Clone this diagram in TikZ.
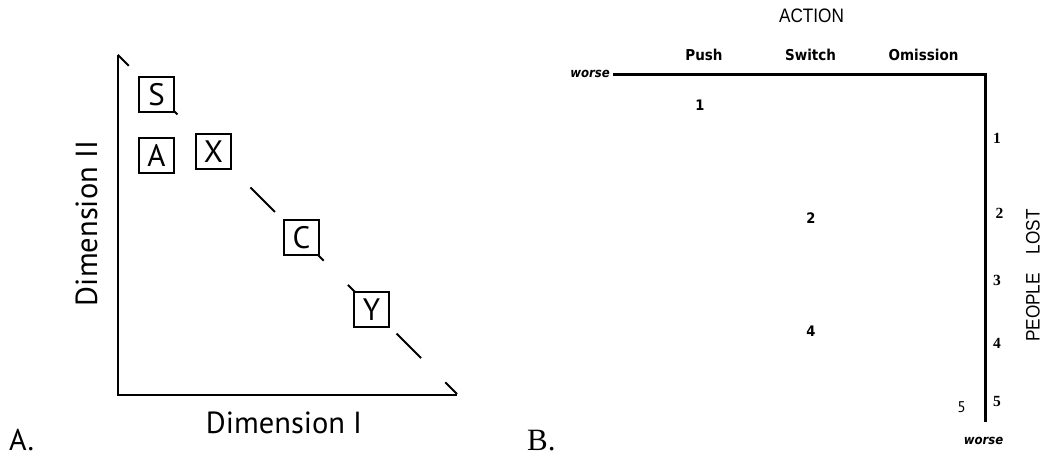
\documentclass[tikz,border=0pt]{standalone}
\usepackage{fontspec}
\setmainfont{Liberation Serif}
\newfontfamily\myrfont{PT Sans}
\newfontfamily\dvcfont{DejaVu Sans Condensed}
\newfontfamily\arlfont[FakeStretch=0.88]{Liberation Sans}
\newfontfamily\tmsfont{Liberation Serif}
\begin{document}
\begin{tikzpicture}[x=1pt,y=-1pt,
  letterbox/.style={draw=black,fill=white,line width=1.3pt,minimum size=35pt,inner sep=0pt,
    font=\myrfont\fontsize{31}{31}\selectfont},
  axisA/.style={line width=2.2pt},
  axisB/.style={line width=3pt,line join=miter},
  dimlabel/.style={font=\myrfont\fontsize{30.5}{30.5}\selectfont,inner sep=0pt},
  panel/.style={inner sep=0pt,anchor=base west},
  colhead/.style={font=\dvcfont\bfseries\fontsize{15}{15}\selectfont,inner sep=0pt,anchor=base},
  worselab/.style={font=\dvcfont\bfseries\itshape\fontsize{13}{13}\selectfont,inner sep=0pt,anchor=base},
  cellnum/.style={font=\dvcfont\bfseries\fontsize{14.5}{14.5}\selectfont,inner sep=0pt},
  ticknum/.style={font=\tmsfont\bfseries\fontsize{15.5}{15.5}\selectfont,inner sep=0pt},
  headlab/.style={font=\arlfont\fontsize{19.5}{19.5}\selectfont,inner sep=0pt,anchor=base}
]
\useasboundingbox (0,0) rectangle (1041,456);

% ---------- Panel A ----------
\coordinate (ytop) at (117.8,55);
\coordinate (orig) at (117.8,395);
\coordinate (xend) at (457,395);
\coordinate (dstart) at (117.8,54.8);
\coordinate (dend) at (457,394);
\draw[line width=2pt,dash pattern=on 34.6pt off 34.3pt,dash phase=19.1pt] (dstart) -- (dend);
\draw[axisA] (ytop) -- (orig) -- (xend);

\node[letterbox] (S) at (156.5,94.5) {S};
\node[letterbox] (A) at (156.5,155.5) {A};
\node[letterbox] (X) at (213.5,151.5) {X};
\node[letterbox] (C) at (301.5,237.5) {C};
\node[letterbox] (Y) at (371.5,309.5) {Y};

\node[dimlabel,rotate=90,anchor=base] (dim2) at (97,223.5) {Dimension II};
\node[dimlabel,anchor=base] (dim1) at (284,433) {Dimension I};
\node[panel,font=\myrfont\fontsize{30}{30}\selectfont] (pA) at (9,450.5) {A.};

% ---------- Panel B ----------
\node[panel,font=\tmsfont\fontsize{31}{31}\selectfont] (pB) at (527,450.5) {B.};

\coordinate (hl) at (613,74);
\coordinate (corner) at (985,74);
\coordinate (vb) at (985,422);
\draw[axisB] (hl) -- (corner) -- (vb);

\node[headlab] (action) at (811.5,22.5) {ACTION};
\node[colhead] (push) at (704,60.7) {Push};
\node[colhead] (switch) at (810.5,60.7) {Switch};
\node[colhead] (omission) at (923.5,60.7) {Omission};

\node[worselab] (worse1) at (590,77) {worse};
\node[worselab] (worse2) at (983.5,444) {worse};

\node[cellnum] (c1) at (700,105.5) {1};
\node[cellnum] (c2) at (811,218.5) {2};
\node[cellnum] (c4) at (811,331.5) {4};
\node[font=\myrfont\fontsize{15.5}{15.5}\selectfont,inner sep=0pt] (c5) at (961.5,407) {5};

\node[ticknum] (t1) at (997,138) {1};
\node[ticknum] (t2) at (999.5,213.5) {2};
\node[ticknum] (t3) at (997,280) {3};
\node[ticknum] (t4) at (997,343) {4};
\node[ticknum] (t5) at (997,401.5) {5};

\node[headlab,rotate=90] (people) at (1039.5,275.5) {PEOPLE\hspace{19pt}LOST};
\end{tikzpicture}
\end{document}
